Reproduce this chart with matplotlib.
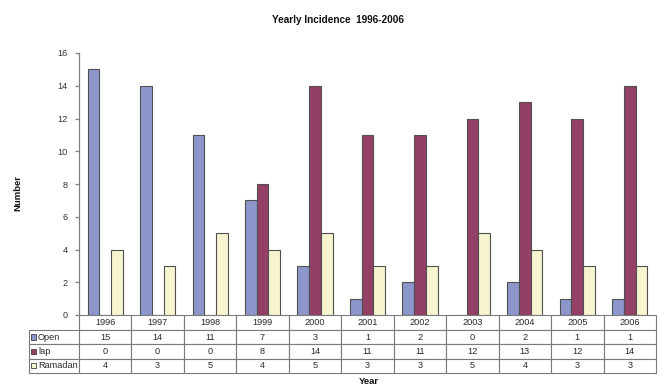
import matplotlib
matplotlib.use("Agg")
import matplotlib.pyplot as plt
from matplotlib.table import Table
from matplotlib.patches import Rectangle
import numpy as np

plt.rcParams['font.family'] = ['Liberation Sans', 'DejaVu Sans']

years = ['1996', '1997', '1998', '1999', '2000', '2001', '2002', '2003', '2004', '2005', '2006']
open_cases = [15, 14, 11, 7, 3, 1, 2, 0, 2, 1, 1]
lap_cases = [0, 0, 0, 8, 14, 11, 11, 12, 13, 12, 14]
ramadan_cases = [4, 3, 5, 4, 5, 3, 3, 5, 4, 3, 3]

series_names = ['Open', 'lap', 'Ramadan']
series_values = [open_cases, lap_cases, ramadan_cases]
series_colors = ['#8C96CA', '#933F66', '#F6F5D0']

W, H = 659, 385
fig = plt.figure(figsize=(W / 100, H / 100), dpi=100)
ax = fig.add_axes([79 / W, 1 - 315 / H, 577 / W, 262 / H])

x = np.arange(len(years))
bw = 0.223
for k, (vals, col) in enumerate(zip(series_values, series_colors)):
    ax.bar(x + (k - 1) * bw, vals, width=bw, color=col, edgecolor='#505050',
           linewidth=0.8, zorder=3)

ax.set_xlim(-0.5, len(years) - 0.5)
ax.set_ylim(0, 16)
ax.set_yticks(range(0, 17, 2))
ax.set_xticks([])
for s in ['top', 'right', 'bottom']:
    ax.spines[s].set_visible(False)
ax.spines['left'].set_color('#808080')
ax.spines['left'].set_linewidth(0.9)
ax.tick_params(axis='y', length=3, width=0.9, color='#808080',
               labelsize=6.6, labelcolor='#333333', pad=5)

# data table under the axes; column 0 holds the series names
ncol = len(years)
lab_w = 50 / 577
col_w = 1 / ncol
head_h = 15 / 262
row_h = 14.3 / 262
tot_h = head_h + 3 * row_h
tbl = Table(ax, bbox=[-lab_w, -tot_h, 1 + lab_w, tot_h])
edge = '#7a7a7a'


def styled(cell):
    cell.set_edgecolor(edge)
    cell.set_linewidth(0.8)
    cell.get_text().set_color('#2a2a2a')
    return cell


corner = tbl.add_cell(0, 0, width=lab_w, height=head_h, text='', loc='left')
corner.visible_edges = ''
for j, yr in enumerate(years, start=1):
    styled(tbl.add_cell(0, j, width=col_w, height=head_h, text=yr, loc='center'))
for i, vals in enumerate(series_values, start=1):
    styled(tbl.add_cell(i, 0, width=lab_w, height=row_h, text='', loc='left'))
    for j, v in enumerate(vals, start=1):
        styled(tbl.add_cell(i, j, width=col_w, height=row_h, text=str(v), loc='center'))
tbl.auto_set_font_size(False)
tbl.set_fontsize(6.6)
ax.add_table(tbl)

# row labels with colour keys
for i, (name, col) in enumerate(zip(series_names, series_colors)):
    yc = -head_h - (i + 0.5) * row_h
    ax.add_patch(Rectangle((-(48.5 / 577), yc - 2.6 / 262), 5.5 / 577, 5.5 / 262,
                           facecolor=col, edgecolor='#404040', linewidth=0.6,
                           transform=ax.transAxes, clip_on=False, zorder=5))
    ax.text(-(41 / 577), yc, name, transform=ax.transAxes, ha='left', va='center',
            fontsize=6.6, color='#2a2a2a')

fig.text(338 / W, 1 - 20 / H, 'Yearly Incidence  1996-2006', ha='center', va='center',
         fontsize=7.2, fontweight='bold', color='#111111')
fig.text(18 / W, 1 - 193 / H, 'Number', ha='center', va='center', rotation=90,
         fontsize=6.8, fontweight='bold', color='#111111')
fig.text(369 / W, 1 - 381 / H, 'Year', ha='center', va='center',
         fontsize=6.8, fontweight='bold', color='#111111')

fig.savefig('out.png', dpi=100)
